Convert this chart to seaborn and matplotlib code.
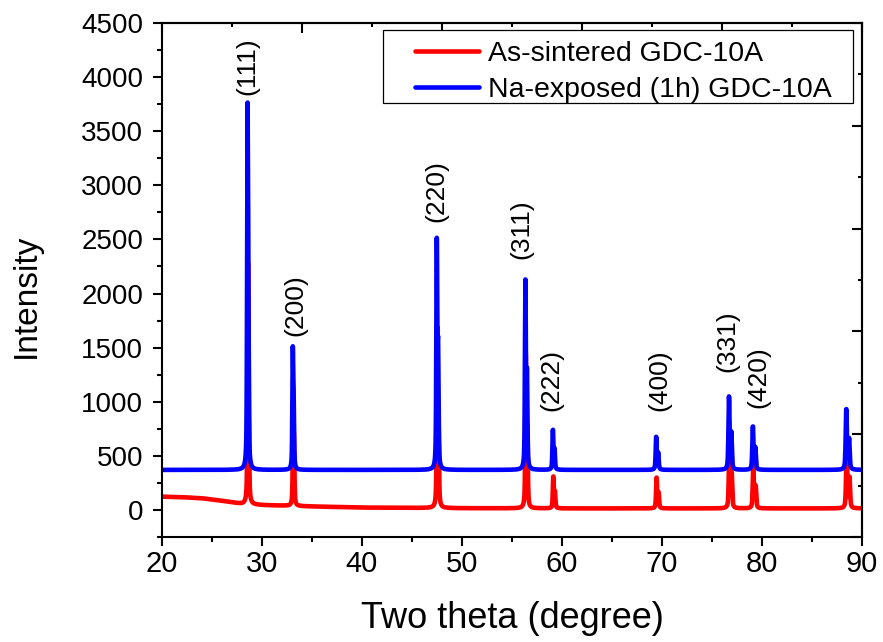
import numpy as np
import matplotlib
matplotlib.use("Agg")
import matplotlib.pyplot as plt
import seaborn as sns
from matplotlib.patches import Rectangle
from matplotlib.ticker import MultipleLocator, FixedLocator

# ---- diffraction data (Cu K-alpha scan, 20-90 deg 2theta) ----
two_theta = np.arange(20.0, 90.0001, 0.02)

# fluorite reflections of GDC
peak_pos = [28.55, 33.08, 47.48, 56.34, 59.09, 69.42, 76.70, 79.09, 88.43]
peak_fwhm = [0.10, 0.10, 0.11, 0.11, 0.11, 0.12, 0.13, 0.13, 0.14]
sintered_shift = 0.04

# peak intensities above background
sintered_int = [2230, 930, 1680, 1430, 295, 285, 640, 400, 560]
exposed_int = [3395, 1142, 2145, 1760, 370, 306, 679, 401, 562]

# backgrounds
sintered_bg_2theta = [20, 22, 24, 26, 28, 30, 33, 36, 40, 50, 60, 90]
sintered_bg = [123, 118, 108, 85, 55, 45, 37, 30, 22, 16, 14, 14]
exposed_bg = 370

hkl_labels = ["(111)", "(200)", "(220)", "(311)", "(222)", "(400)", "(331)", "(420)"]
# where each Miller-index tag sits (2theta, intensity at the lower end of the text)
hkl_label_xy = [(28.56, 3833), (33.30, 1605), (47.40, 2657), (55.97, 2315),
                (58.97, 910), (69.70, 917), (76.50, 1278), (79.60, 940)]

series_names = ["As-sintered GDC-10A", "Na-exposed (1h) GDC-10A"]
series_colors = ["#ff0000", "#0000ff"]

KA2_RATIO = 0.5
KA2_REL = (1.54443 - 1.54056) / 1.54056


def pseudo_voigt(x, center, fwhm, eta=0.55):
    hw = fwhm / 2.0
    lor = 1.0 / (1.0 + ((x - center) / hw) ** 2)
    gau = np.exp(-np.log(2) * ((x - center) / hw) ** 2)
    return eta * lor + (1 - eta) * gau


def pattern(background, positions, intensities, widths):
    y = np.array(background, dtype=float)
    for pos, inten, w in zip(positions, intensities, widths):
        shift = 2 * np.degrees(np.tan(np.radians(pos / 2)) * KA2_REL)
        shape = pseudo_voigt(two_theta, pos, w) + KA2_RATIO * pseudo_voigt(two_theta, pos + shift, w)
        y += inten * shape / shape.max()
    return y


sintered = pattern(np.interp(two_theta, sintered_bg_2theta, sintered_bg),
                   [p + sintered_shift for p in peak_pos], sintered_int, peak_fwhm)
exposed = pattern(np.full_like(two_theta, exposed_bg), peak_pos, exposed_int, peak_fwhm)

# ---- figure ----
sns.set_style("ticks")
plt.rcParams["font.family"] = ["Liberation Sans", "DejaVu Sans"]
plt.rcParams.update({"text.color": "black", "axes.labelcolor": "black",
                     "xtick.color": "black", "ytick.color": "black",
                     "axes.edgecolor": "black"})

W, H = 883, 642
fig = plt.figure(figsize=(W / 100, H / 100), dpi=100)
ax = fig.add_axes([162 / W, 1 - 537 / H, 700 / W, 514 / H])

lw = 3.3
sns.lineplot(x=two_theta, y=sintered, color=series_colors[0], lw=lw,
             estimator=None, sort=False, ax=ax, label=series_names[0])
sns.lineplot(x=two_theta, y=exposed, color=series_colors[1], lw=lw,
             estimator=None, sort=False, ax=ax, label=series_names[1])

ax.set_xlim(20, 90)
ax.set_ylim(-250, 4500)

for hkl, (xp, yp) in zip(hkl_labels, hkl_label_xy):
    ax.text(xp, yp, hkl, rotation=90, ha="center", va="bottom", fontsize=19)

# axes frame and ticks
spine_w = 1.5
for s in ax.spines.values():
    s.set_linewidth(spine_w)
    s.set_color("black")

ax.set_xticks(range(20, 91, 10))
ax.xaxis.set_minor_locator(MultipleLocator(5))
ax.set_yticks(range(0, 4501, 500))
ax.yaxis.set_minor_locator(MultipleLocator(250))
ax.tick_params(axis="both", which="major", direction="out", length=6.5, width=spine_w,
               color="black", top=False, right=False)
ax.tick_params(axis="both", which="minor", direction="out", length=3.5, width=spine_w,
               color="black", top=False, right=False)
ax.tick_params(axis="y", which="major", labelsize=20, pad=7)
ax.tick_params(axis="x", which="major", labelsize=21, pad=3)

top = ax.secondary_xaxis("top")
top.set_xticks([20, 34, 48, 62, 76, 90])
top.set_xticklabels([])
top.xaxis.set_minor_locator(FixedLocator([27, 41, 55, 69, 83]))
top.tick_params(which="major", direction="in", length=7, width=spine_w)
top.tick_params(which="minor", direction="in", length=3, width=spine_w)
top.spines["top"].set_linewidth(spine_w)

right = ax.secondary_yaxis("right")
right.set_yticks([-250, 700, 1650, 2600, 3550, 4500])
right.set_yticklabels([])
right.yaxis.set_minor_locator(FixedLocator([225, 1175, 2125, 3075, 4025]))
right.tick_params(which="major", direction="in", length=7, width=spine_w)
right.tick_params(which="minor", direction="in", length=3, width=spine_w)
right.spines["right"].set_linewidth(spine_w)

ax.set_xlabel("Two theta (degree)", fontsize=26)
ax.xaxis.set_label_coords(0.5, -0.124)
ax.set_ylabel("Intensity", fontsize=24)
ax.yaxis.set_label_coords(-0.171, 0.47)

# legend with a plain rectangular frame
ax.add_artist(Rectangle((383 / W, 1 - 103 / H), 470 / W, 73 / H, transform=fig.transFigure,
                        facecolor="white", edgecolor="black", lw=0.9, zorder=4.5))
leg = ax.legend(loc="upper left", bbox_to_anchor=(415 / W, 1 - 41 / H),
                bbox_transform=fig.transFigure, frameon=False, fontsize=20.5,
                handlelength=2.25, handletextpad=0.3, labelspacing=0.35,
                borderpad=0, borderaxespad=0)
leg.set_zorder(5)
for line in leg.get_lines():
    line.set_linewidth(lw)

fig.savefig("out.png", dpi=100)
